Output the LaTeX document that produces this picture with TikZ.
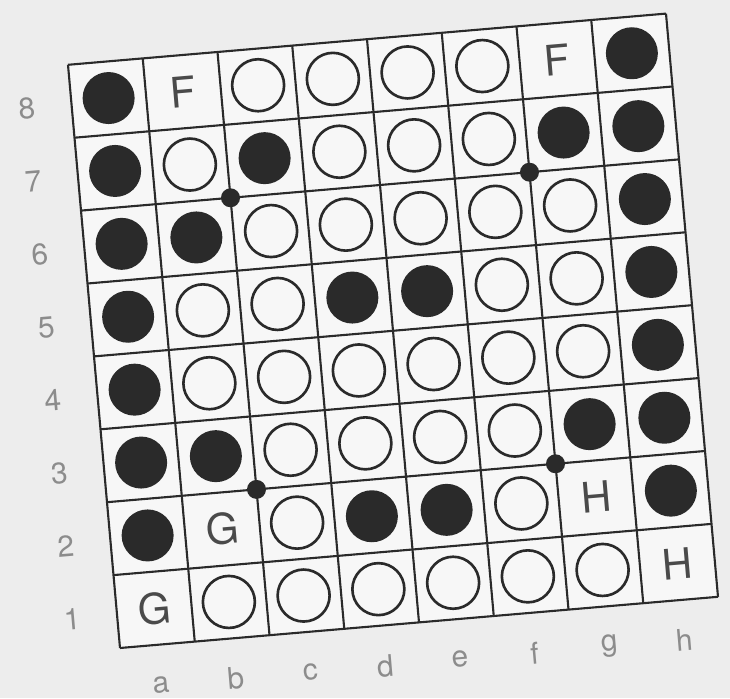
\documentclass[tikz,border=0pt]{standalone}
\usepackage{fontspec}
\setsansfont{TeX Gyre Heros}
\usepackage{xcolor}
\usepackage{tikz}

\definecolor{paper}{HTML}{EDEDED}
\definecolor{boardbg}{HTML}{F7F7F7}
\definecolor{ink}{HTML}{2A2A2A}
\definecolor{rim}{HTML}{8C8C8C}

\begin{document}
\begin{tikzpicture}[
    gridline/.style={ink, line width=1.2pt},
    stone B/.style={fill=ink},
    stone W/.style={draw=ink, fill=boardbg, line width=1.5pt},
    stone x/.style={},
    starpt/.style={fill=ink},
    cellmark/.style={font=\sffamily\fontsize{24}{24}\selectfont, text=ink!85, rotate=4.9},
    coordlbl/.style={font=\sffamily\fontsize{17}{17}\selectfont, text=rim, rotate=4.9}]
  \fill[paper] (0,0) rectangle (14.6,13.96);
  \useasboundingbox (0,0) rectangle (14.6,13.96);
  \begin{scope}[shift={(2.4,1.0)}, x={(1.495cm,0.128cm)}, y={(-0.13cm,1.458cm)}]
    \fill[boardbg] (0,0) -- (8,0) -- (8,8) -- (0,8) -- cycle;
    \foreach \i in {0,...,8} {
      \draw[gridline] (\i,0) -- (\i,8);
      \draw[gridline] (0,\i) -- (8,\i);
    }
    % stones, row by row from a to h (x = F, G or H mark)
    \foreach \r/\cells in {8/{B,x,W,W,W,W,x,B},7/{B,W,B,W,W,W,B,B},
        6/{B,B,W,W,W,W,W,B},5/{B,W,W,B,B,W,W,B},4/{B,W,W,W,W,W,W,B},
        3/{B,B,W,W,W,W,B,B},2/{B,x,W,B,B,W,x,B},1/{x,W,W,W,W,W,W,x}} {
      \foreach \p [count=\c] in \cells {
        \path[stone \p] (\c-0.5,\r-0.5) circle[radius=0.52cm];
      }
    }
    \foreach \c/\r/\t in {2/8/F,7/8/F,2/2/G,1/1/G,7/2/H,8/1/H}
      \node[cellmark] (mark-\c-\r) at (\c-0.5,\r-0.5) {\t};
    \foreach \c/\r in {2/2,6/2,2/6,6/6}
      \fill[starpt] (\c,\r) circle[radius=0.19cm];
    \foreach \r in {1,...,8}
      \node[coordlbl] (row-\r) at (-0.6,\r-0.55) {\r};
    \foreach \l [count=\c] in {a,b,c,d,e,f,g,h}
      \node[coordlbl] (col-\l) at (\c-0.5,-0.55) {\l};
  \end{scope}
\end{tikzpicture}
\end{document}
